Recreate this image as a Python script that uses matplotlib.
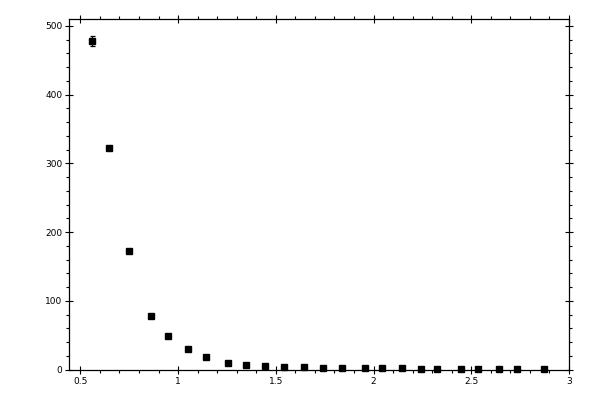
import matplotlib
matplotlib.use("Agg")
import matplotlib.pyplot as plt
from matplotlib.ticker import MultipleLocator

x_values = [0.56, 0.645, 0.75, 0.862, 0.95, 1.05, 1.145, 1.254, 1.35, 1.447,
            1.544, 1.642, 1.743, 1.84, 1.955, 2.045, 2.145, 2.245, 2.325,
            2.446, 2.537, 2.64, 2.736, 2.874]
y_values = [478, 322, 172, 77.5, 48.5, 29.5, 18.3, 9.3, 6.4, 4.7,
            3.5, 3.3, 2.2, 2.0, 2.0, 1.8, 1.8, 1.7, 1.6,
            1.6, 1.5, 1.5, 1.5, 1.4]
y_errors = [7.7, 3.0, 2.5, 1.5, 1.2, 1.0, 0.8, 0.6, 0.5, 0.4,
            0.4, 0.4, 0.3, 0.3, 0.3, 0.3, 0.3, 0.3, 0.3,
            0.3, 0.3, 0.3, 0.3, 0.3]

fig = plt.figure(figsize=(6, 4), dpi=100)
ax = fig.add_axes([69/600, 1 - 369.7/400, 500/600, (369.7 - 19)/400])

cont = ax.errorbar(x_values, y_values, yerr=y_errors, fmt='s', color='black',
                   markersize=5.0, elinewidth=0.9, capsize=1.8, capthick=0.9)
for art in cont.get_children():
    art.set_clip_on(False)

ax.set_xlim(0.442, 3.0)
ax.set_ylim(0, 510)

ax.xaxis.set_minor_locator(MultipleLocator(0.1))
ax.yaxis.set_minor_locator(MultipleLocator(20))
ax.set_xticks([0.5, 1, 1.5, 2, 2.5, 3])
ax.set_xticklabels(['0.5', '1', '1.5', '2', '2.5', '3'])
ax.set_yticks([0, 100, 200, 300, 400, 500])
ax.set_yticklabels(['0', '100', '200', '300', '400', '500'])

for sp in ax.spines.values():
    sp.set_linewidth(0.9)

ax.tick_params(which='major', direction='inout', length=5.8, width=0.8,
               top=True, right=True, labelsize=6.5, pad=2)
ax.tick_params(which='minor', direction='out', length=2.5, width=0.8,
               top=True, right=True)
for lab in ax.get_xticklabels() + ax.get_yticklabels():
    lab.set_family('DejaVu Sans')

fig.savefig('out.png', dpi=100)
